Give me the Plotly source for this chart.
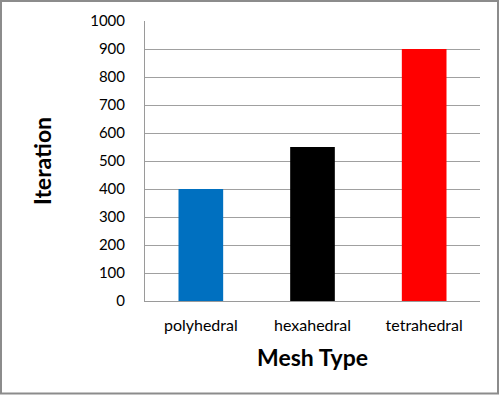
import plotly.graph_objects as go

categories = ["polyhedral", "hexahedral", "tetrahedral"]
iterations = [400, 550, 900]
bar_colors = ["#0070C0", "#000000", "#FF0000"]
y_ticks = [0, 100, 200, 300, 400, 500, 600, 700, 800, 900, 1000]

W, H = 500, 395
L, R, T, B = 145, 20, 21, 94
pw, ph = W - L - R, H - T - B

fig = go.Figure(go.Bar(x=categories, y=iterations, marker=dict(color=bar_colors, line=dict(width=0)), width=0.4))

font = "Lato, 'Open Sans', sans-serif"
fig.update_layout(
    width=W, height=H,
    margin=dict(l=L, r=R, t=T, b=B, autoexpand=False),
    paper_bgcolor="white", plot_bgcolor="white",
    font=dict(family=font, color="#000000", size=15),
    showlegend=False,
    xaxis=dict(
        automargin=False,
        showline=True, linecolor="#9A9A9A", linewidth=1,
        ticks="", tickfont=dict(size=16, family=font),
        title=dict(text="<b>Mesh Type</b>", font=dict(size=23, family=font), standoff=16),
        ticklabelstandoff=10,
    ),
    yaxis=dict(
        automargin=False,
        range=[0, 1000], tickvals=y_ticks,
        showline=True, linecolor="#9A9A9A", linewidth=1,
        showgrid=True, gridcolor="#A0A0A0", gridwidth=1,
        ticks="", tickfont=dict(size=15, family=font),
        ticklabelstandoff=16,
        zeroline=False,
        title=dict(text="<b>Iteration</b>", font=dict(size=23, family=font), standoff=32),
    ),
)

def px_x(p):
    return (p - L) / pw

def px_y(p):
    return (H - B - p) / ph

fig.add_shape(type="rect", xref="paper", yref="paper",
              x0=px_x(1), x1=px_x(498), y0=px_y(393.5), y1=px_y(1),
              line=dict(color="#8C8C8C", width=2), fillcolor="rgba(0,0,0,0)", layer="above")

fig.write_html("out.html", config={"displayModeBar": False},
               post_script="document.body.style.margin='0';document.body.style.overflow='hidden';")
